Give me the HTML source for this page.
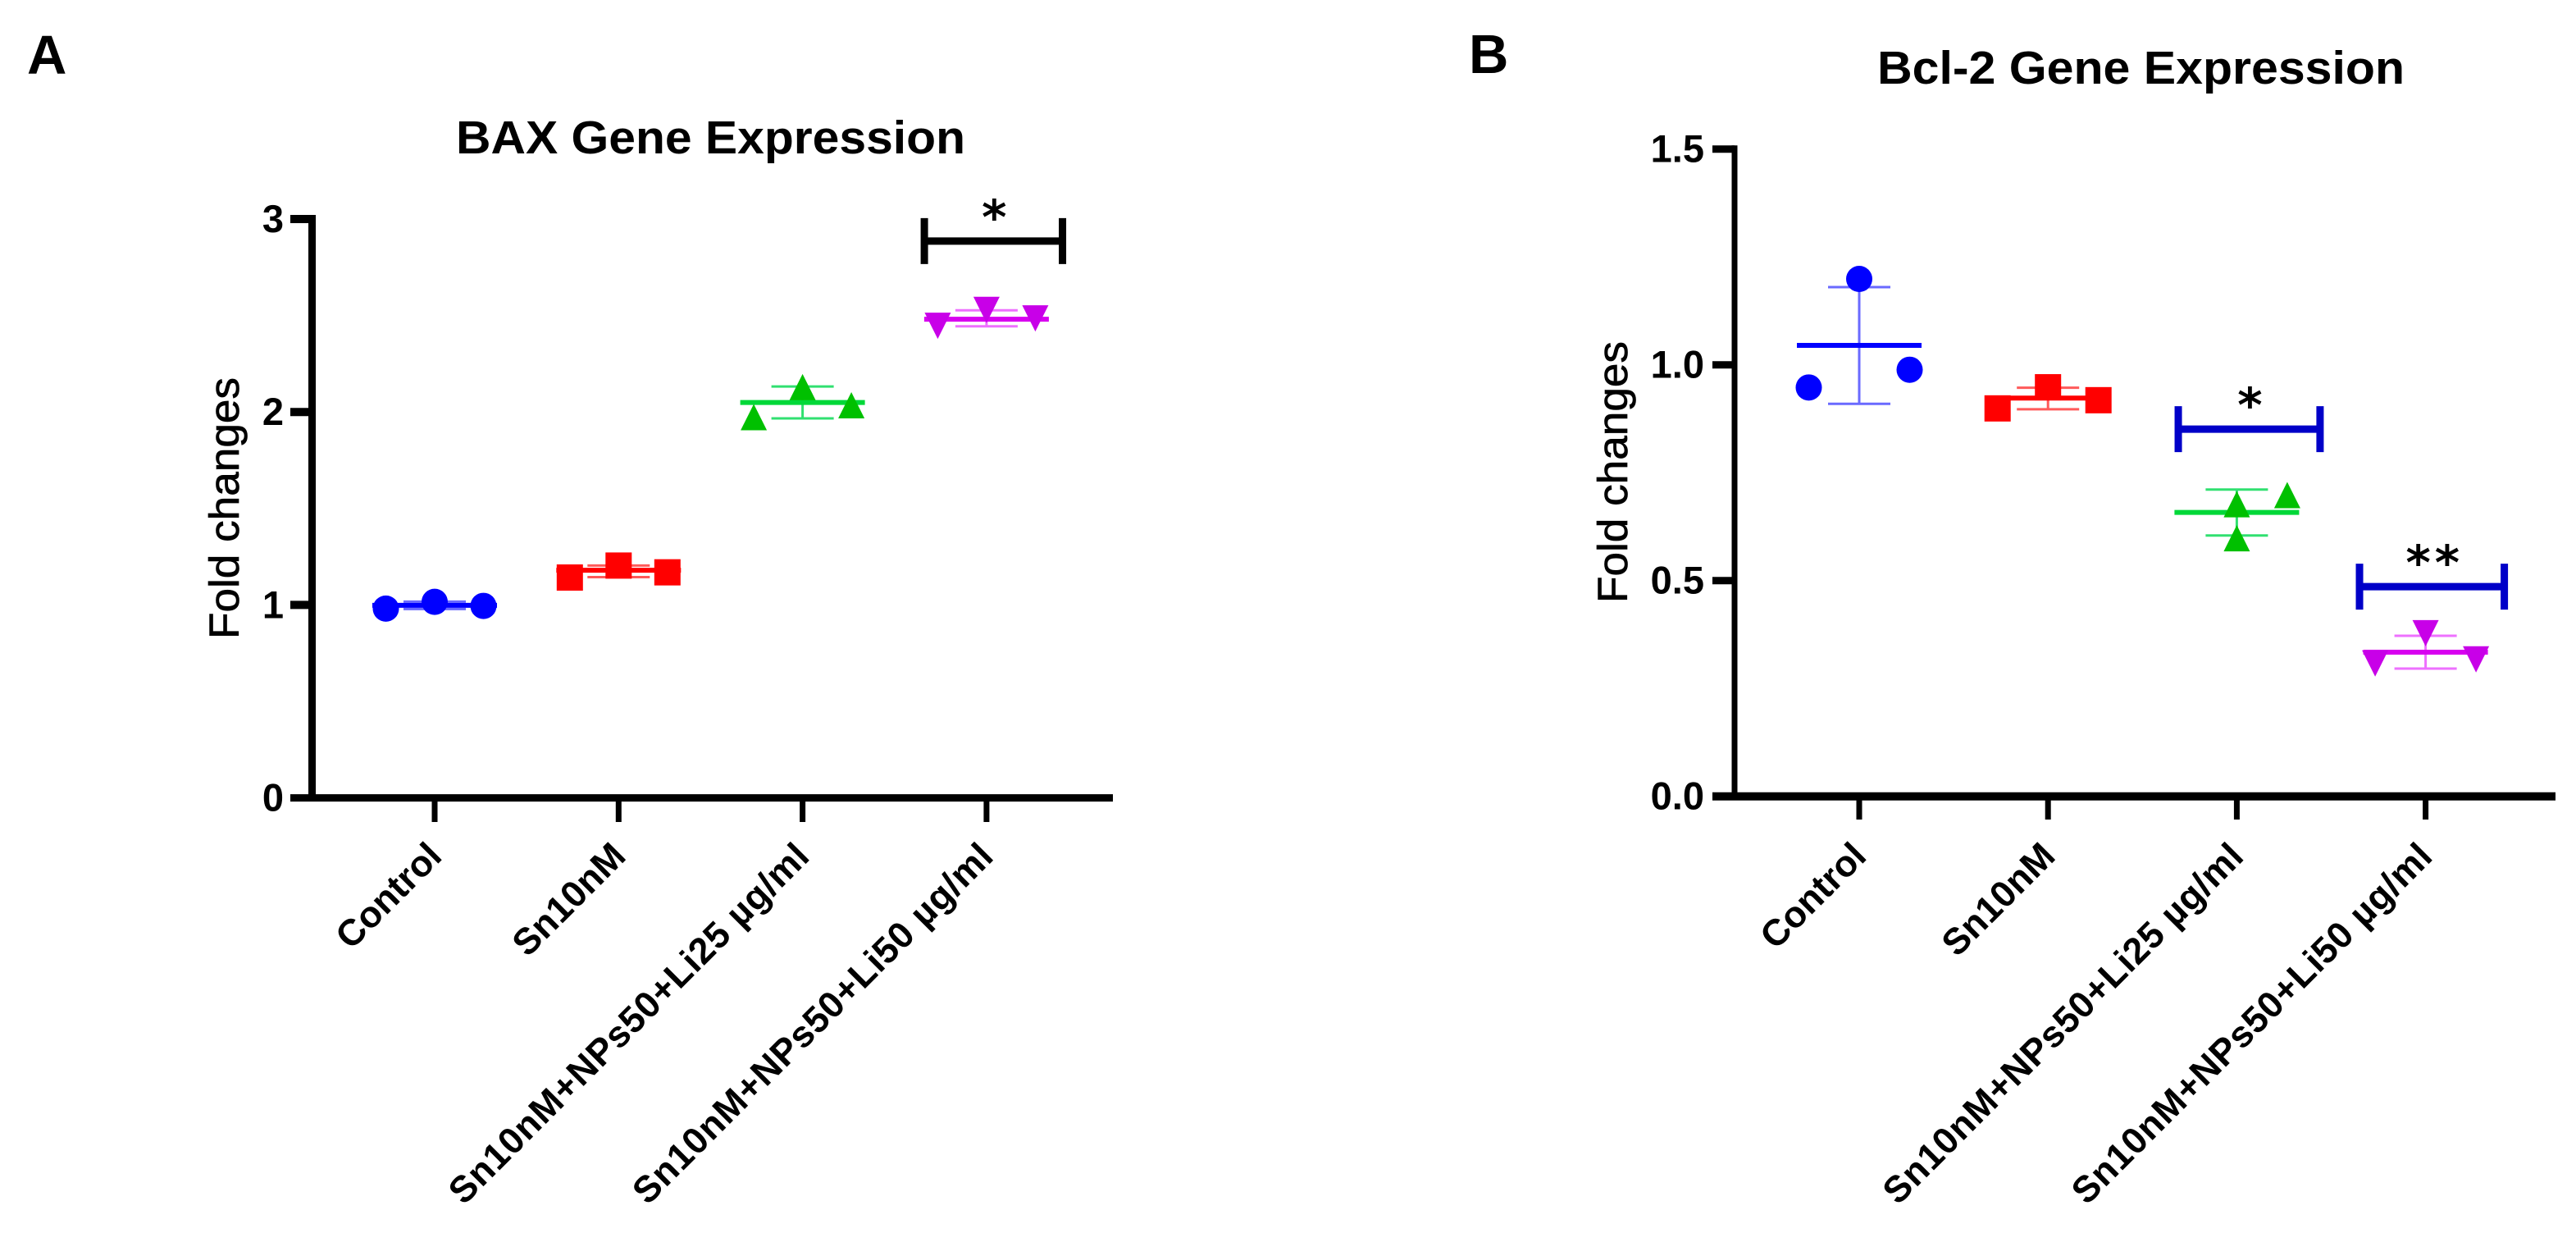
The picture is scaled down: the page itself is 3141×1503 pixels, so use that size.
<!DOCTYPE html>
<html lang="en">
<head>
<meta charset="utf-8">
<title>BAX and Bcl-2 Gene Expression</title>
<style>
html,body{margin:0;padding:0;background:#fff;}
svg{display:block;}
text{font-family:"Liberation Sans",Arial,sans-serif;fill:#000;}
</style>
</head>
<body>
<svg id="figure" xmlns="http://www.w3.org/2000/svg" width="3141" height="1503" viewBox="0 0 3141 1503">
  <rect x="0" y="0" width="3141" height="1503" fill="#ffffff"/>
  <text x="33" y="90" font-size="67" font-weight="700">A</text>
  <text x="1791" y="89" font-size="67" font-weight="700">B</text>
  <text x="556" y="187" font-size="57" font-weight="700" textLength="621" lengthAdjust="spacingAndGlyphs">BAX Gene Expression</text>
  <text x="2289" y="102" font-size="57" font-weight="700" textLength="643" lengthAdjust="spacingAndGlyphs">Bcl-2 Gene Expression</text>
  <text transform="translate(291,779) rotate(-90)" font-size="51" stroke="#000" stroke-width="0.7" textLength="319" lengthAdjust="spacingAndGlyphs">Fold changes</text>
  <text transform="translate(1984,735) rotate(-90)" font-size="51" stroke="#000" stroke-width="0.7" textLength="319" lengthAdjust="spacingAndGlyphs">Fold changes</text>
  <g id="panel-a"></g>
  <g id="panel-b"></g>
</svg>
<script>
// Shared categories
const categories = ['Control', 'Sn10nM', 'Sn10nM+NPs50+Li25 µg/ml', 'Sn10nM+NPs50+Li50 µg/ml'];

// Panel A values
const aYTicks = [0, 1, 2, 3];
const aYLabels = ['0', '1', '2', '3'];
const aPoints = [[0.981, 1.016, 0.995], [1.142, 1.204, 1.169], [1.973, 2.129, 2.035], [2.447, 2.529, 2.485]];
const aSlots = [[-1, 0, 1], [-1, 0, 1], [-1, 0, 1], [-1, 0, 1]];
const aMeans = [0.998, 1.18, 2.049, 2.481];
const aErrHigh = [1.017, 1.204, 2.132, 2.527];
const aErrLow = [0.979, 1.144, 1.967, 2.444];
const aBracketFrom = [2.662];
const aBracketTo = [3.413];
const aBracketValue = [2.886];
const aBracketMarks = ['*'];

// Panel B values
const bYTicks = [0, 0.5, 1, 1.5];
const bYLabels = ['0.0', '0.5', '1.0', '1.5'];
const bPoints = [[0.9475, 1.199, 0.9886], [0.899, 0.948, 0.918], [0.677, 0.598, 0.698], [0.308, 0.378, 0.3175]];
const bSlots = [[-1, 0, 1], [-1, 0, 1], [0, 0, 1], [-1, 0, 1]];
const bMeans = [1.045, 0.923, 0.658, 0.334];
const bErrHigh = [1.18, 0.947, 0.711, 0.372];
const bErrLow = [0.9095, 0.897, 0.6045, 0.296];
const bBracketFrom = [1.69, 2.65];
const bBracketTo = [2.441, 3.417];
const bBracketValue = [0.851, 0.486];
const bBracketMarks = ['*', '**'];

const SVG_NS = 'http://www.w3.org/2000/svg';
const markerFill = ['#0000ff', '#ff0000', '#00c000', '#c800e8'];
const meanStroke = ['#0000ff', '#ff0000', '#00d838', '#d800f0'];
const errStroke = ['#6a6aff', '#ff5a5a', '#30e070', '#ee70ff'];

function make(parent, tag, attrs, text) {
  const el = document.createElementNS(SVG_NS, tag);
  for (const key in attrs) el.setAttribute(key, attrs[key]);
  if (text !== undefined) el.textContent = text;
  parent.appendChild(el);
  return el;
}

function drawPanel(root, geo, yTicks, yLabels, points, slots, means, errHigh, errLow, brFrom, brTo, brValue, brMarks, brColor) {
  const yScale = v => geo.y0 - v * geo.yUnit;
  const xScale = i => geo.x0 + i * geo.xStep;

  // Series marks
  categories.forEach((cat, i) => {
    const cx = xScale(i);
    const group = make(root, 'g', {});
    
    

    const stem = make(group, 'line', { x1: cx, x2: cx, y1: yScale(errHigh[i]), y2: yScale(errLow[i]), stroke: errStroke[i], 'stroke-width': 3 });
    
    

    const capHigh = make(group, 'line', { x1: cx - 38, x2: cx + 38, y1: yScale(errHigh[i]), y2: yScale(errHigh[i]), stroke: errStroke[i], 'stroke-width': 3 });
    
    

    const capLow = make(group, 'line', { x1: cx - 38, x2: cx + 38, y1: yScale(errLow[i]), y2: yScale(errLow[i]), stroke: errStroke[i], 'stroke-width': 3 });
    
    

    const meanLine = make(group, 'line', { x1: cx - 76, x2: cx + 76, y1: yScale(means[i]), y2: yScale(means[i]), stroke: meanStroke[i], 'stroke-width': 6 });
    
    

    points[i].forEach((v, j) => {
      const px = cx + slots[i][j] * geo.slotStep;
      const py = yScale(v);
      let mark;
      if (i === 0) {
        mark = make(group, 'circle', { cx: px, cy: py, r: 16, fill: markerFill[i] });
      } else if (i === 1) {
        mark = make(group, 'rect', { x: px - 16, y: py - 16, width: 32, height: 32, fill: markerFill[i] });
      } else if (i === 2) {
        mark = make(group, 'polygon', { points: `${px},${py - 16} ${px + 16},${py + 16} ${px - 16},${py + 16}`, fill: markerFill[i] });
      } else {
        mark = make(group, 'polygon', { points: `${px - 16},${py - 16} ${px + 16},${py - 16} ${px},${py + 16}`, fill: markerFill[i] });
      }
      
      
    });
  });

  // Axes
  const yAxis = make(root, 'line', { x1: geo.axisX, x2: geo.axisX, y1: yScale(yTicks[yTicks.length - 1]) - geo.tickW / 2, y2: geo.y0, stroke: '#000', 'stroke-width': geo.axisW });
  
  

  const xAxis = make(root, 'line', { x1: geo.tickLeft, x2: geo.axisEnd, y1: geo.y0, y2: geo.y0, stroke: '#000', 'stroke-width': geo.xAxisW });
  
  

  yTicks.forEach((t, i) => {
    const y = yScale(t);
    if (t !== 0) {
      const tick = make(root, 'line', { x1: geo.tickLeft, x2: geo.axisX, y1: y, y2: y, stroke: '#000', 'stroke-width': geo.tickW });
      
      
    }
    const label = make(root, 'text', { x: geo.labelRight, y: y + 16, 'text-anchor': 'end', 'font-size': 47, 'font-weight': 700 }, yLabels[i]);
    
    
  });

  categories.forEach((cat, i) => {
    const x = xScale(i);
    const tick = make(root, 'line', { x1: x, x2: x, y1: geo.y0, y2: geo.tickBottom, stroke: '#000', 'stroke-width': 7 });
    
    

    const label = make(root, 'text', { transform: `translate(${x + 11},1046) rotate(-45)`, 'text-anchor': 'end', 'font-size': 45, 'font-weight': 700, 'letter-spacing': cat.length > 10 ? 0.7 : 0 }, cat);
    
    
  });

  // Significance brackets
  brFrom.forEach((from, i) => {
    const xa = xScale(from);
    const xb = xScale(brTo[i]);
    const y = yScale(brValue[i]);
    const bar = make(root, 'line', { x1: xa, x2: xb, y1: y, y2: y, stroke: brColor, 'stroke-width': 9 });
    
    

    const capLeft = make(root, 'line', { x1: xa, x2: xa, y1: y - 28, y2: y + 28, stroke: brColor, 'stroke-width': 9 });
    
    

    const capRight = make(root, 'line', { x1: xb, x2: xb, y1: y - 28, y2: y + 28, stroke: brColor, 'stroke-width': 9 });
    
    

    const star = make(root, 'text', { x: (xa + xb) / 2 + 3.5, y: y - 9, 'text-anchor': 'middle', 'font-size': 58, 'font-weight': 700, 'letter-spacing': 5, style: 'font-family:"DejaVu Sans",sans-serif' }, brMarks[i]);
    
    
  });
}

drawPanel(document.getElementById('panel-a'),
  { x0: 530, xStep: 224.3, y0: 972.6, yUnit: 235.2, slotStep: 59.5, axisX: 380.5, axisW: 9, xAxisW: 9, tickW: 10, tickLeft: 354, axisEnd: 1357, labelRight: 346, tickBottom: 1002 },
  aYTicks, aYLabels, aPoints, aSlots, aMeans, aErrHigh, aErrLow, aBracketFrom, aBracketTo, aBracketValue, aBracketMarks, '#000000');

drawPanel(document.getElementById('panel-b'),
  { x0: 2267, xStep: 230.2, y0: 970.7, yUnit: 526, slotStep: 61.5, axisX: 2115, axisW: 7, xAxisW: 10, tickW: 9, tickLeft: 2088, axisEnd: 3116, labelRight: 2078, tickBottom: 999 },
  bYTicks, bYLabels, bPoints, bSlots, bMeans, bErrHigh, bErrLow, bBracketFrom, bBracketTo, bBracketValue, bBracketMarks, '#0000c8');
</script>
</body>
</html>
